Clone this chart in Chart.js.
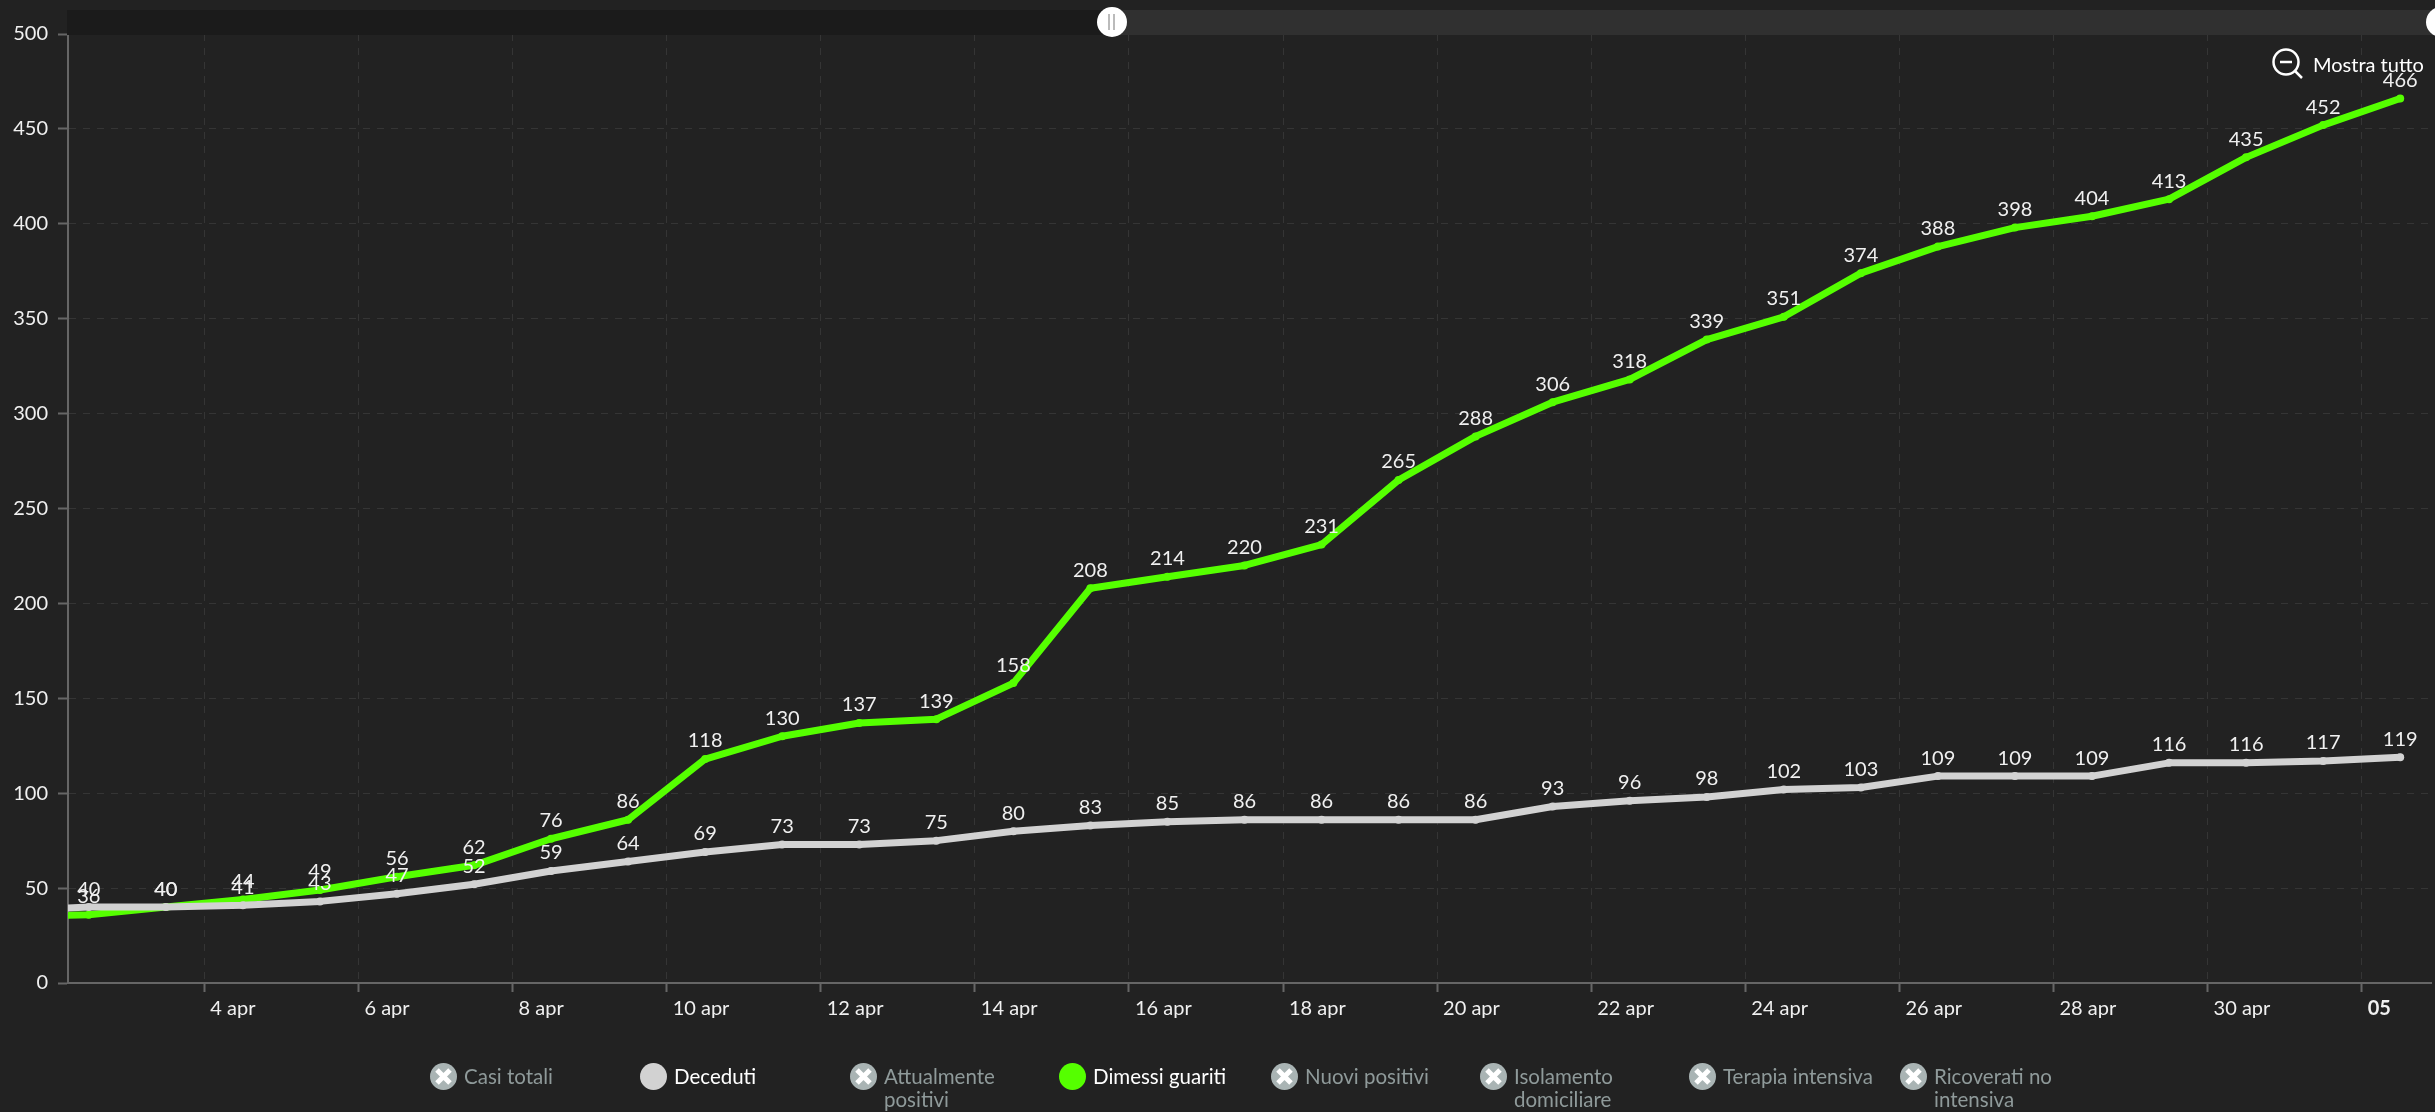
<!DOCTYPE html>
<html lang="it">
<head>
<meta charset="utf-8">
<title>Deceduti e dimessi guariti</title>
<script src="https://cdn.jsdelivr.net/npm/chart.js@4"></script>
<style>
  html, body { margin: 0; padding: 0; background: #222; overflow: hidden; }
  #wrap { position: relative; width: 2435px; height: 1112px; font-family: Lato, sans-serif; color: #fff; }
  canvas { position: absolute; left: 0; top: 0; }
  .scroll-l, .scroll-r { position: absolute; top: 10px; height: 25px; }
  .scroll-l { left: 67px; width: 1045px; background: #1b1b1b; }
  .scroll-r { left: 1112px; width: 1323px; background: #303030; }
  .grip { position: absolute; top: 7px; width: 30px; height: 30px; border-radius: 50%; background: #fff; }
  .grip::after { content: ''; position: absolute; left: 11px; top: 7px; width: 3px; height: 16px;
    border-left: 2px solid #bbb; border-right: 2px solid #bbb; }
  #zoomout { position: absolute; left: 2272px; top: 48px; display: flex; align-items: center; font-size: 20px; line-height: 24px; }
  #zoomout svg { margin-right: 9px; }
  .lg { position: absolute; top: 1063px; font-size: 20.5px; line-height: 23px; padding: 2px 0 0 34px; color: #8f9a9a; white-space: pre-line; }
  .lg.on { color: #fff; }
  .lg i { position: absolute; left: 0; top: 0; width: 27px; height: 27px; border-radius: 50%; }
  .lg svg { position: absolute; left: 0; top: 0; }
</style>
</head>
<body>
<div id="wrap">
  <canvas id="chart" width="2435" height="1112"></canvas>
  <div class="scroll-l"></div>
  <div class="scroll-r"></div>
  <div class="grip" style="left:1097px"></div>
  <div class="grip" style="left:2426px"></div>
  <div id="zoomout">
    <svg width="32" height="32" viewBox="0 0 32 32" fill="none" stroke="#fff" stroke-width="2.5">
      <circle cx="14" cy="14" r="12.5"/><path d="M8 14h12M23 23l7 7"/>
    </svg>Mostra tutto
  </div>
  <div id="legend"></div>
</div>
<script>
// apr days, the first one sits left of the visible range
const days = [1, 2, 3, 4, 5, 6, 7, 8, 9, 10, 11, 12, 13, 14, 15, 16, 17, 18, 19, 20, 21, 22, 23, 24, 25, 26, 27, 28, 29, 30, 31, 32];
const deceduti = [38, 40, 40, 41, 43, 47, 52, 59, 64, 69, 73, 73, 75, 80, 83, 85, 86, 86, 86, 86, 93, 96, 98, 102, 103, 109, 109, 109, 116, 116, 117, 119];
const dimessi = [35, 36, 40, 44, 49, 56, 62, 76, 86, 118, 130, 137, 139, 158, 208, 214, 220, 231, 265, 288, 306, 318, 339, 351, 374, 388, 398, 404, 413, 435, 452, 466];
const tickDays = [4, 6, 8, 10, 12, 14, 16, 18, 20, 22, 24, 26, 28, 30, 32];
const tickLabels = ['4 apr', '6 apr', '8 apr', '10 apr', '12 apr', '14 apr', '16 apr', '18 apr', '20 apr', '22 apr', '24 apr', '26 apr', '28 apr', '30 apr', '05'];
const legendNames = ['Casi totali', 'Deceduti', 'Attualmente\npositivi', 'Dimessi guariti', 'Nuovi positivi', 'Isolamento\ndomiciliare', 'Terapia intensiva', 'Ricoverati no\nintensiva'];
const legendColors = [null, '#d2d2d2', null, '#55ff00', null, null, null, null];
const legendLeft = [430, 640, 850, 1059, 1271, 1480, 1689, 1900];

// ─── Value labels above the points ────────────────────────
const valueLabels = {
  id: 'valueLabels',
  afterDatasetsDraw(chart) {
    const { ctx, chartArea } = chart;
    ctx.save();
    ctx.font = '20px Lato, sans-serif';
    ctx.fillStyle = '#f0f0f0';
    ctx.textAlign = 'center';
    ctx.textBaseline = 'middle';
    chart.data.datasets.forEach((ds, i) => {
      chart.getDatasetMeta(i).data.forEach((pt, j) => {
        if (pt.x < chartArea.left) return;
        ctx.fillText(ds.data[j].y, pt.x, pt.y - 18);
      });
    });
    ctx.restore();
  },
};

const toPoints = values => values.map((v, i) => ({ x: days[i] + 0.5, y: v }));

new Chart(document.getElementById('chart'), {
  type: 'line',
  data: {
    datasets: [
      { label: 'Deceduti', data: toPoints(deceduti), borderColor: '#d2d2d2', backgroundColor: '#d2d2d2' },
      { label: 'Dimessi guariti', data: toPoints(dimessi), borderColor: '#55ff00', backgroundColor: '#55ff00' },
    ],
  },
  options: {
    responsive: false,
    animation: false,
    parsing: false,
    layout: { padding: { top: 34, right: 0, left: 0, bottom: 0 } },
    elements: {
      line: { tension: 0, borderWidth: 7, borderCapStyle: 'round', borderJoinStyle: 'round' },
      point: { radius: 4, borderWidth: 0, hoverRadius: 4 },
    },
    plugins: { legend: { display: false }, tooltip: { enabled: false } },
    scales: {
      x: {
        type: 'linear',
        min: 2.23,
        max: 32.9,
        afterBuildTicks: axis => { axis.ticks = tickDays.map(value => ({ value })); },
        afterFit: axis => { axis.height = 129; },
        grid: { color: 'rgba(255,255,255,0.09)', tickColor: '#666', tickLength: 9, tickWidth: 2 },
        border: { color: '#666', width: 2, dash: [7, 7] },
        ticks: {
          autoSkip: false,
          maxRotation: 0,
          align: 'start',
          labelOffset: 6,
          padding: 5,
          color: '#f0f0f0',
          font: ctx => ({ family: 'Lato', size: 20, weight: ctx.tick && ctx.tick.value === 32 ? 'bold' : 'normal' }),
          callback: value => tickLabels[tickDays.indexOf(value)],
        },
      },
      y: {
        min: 0,
        max: 500,
        afterFit: axis => { axis.width = 68; },
        grid: { color: 'rgba(255,255,255,0.09)', tickColor: '#666', tickLength: 10, tickWidth: 2 },
        border: { color: '#666', width: 2, dash: [7, 7] },
        ticks: { stepSize: 50, padding: 10, color: '#f0f0f0', font: { family: 'Lato', size: 20 } },
      },
    },
  },
  plugins: [valueLabels],
});

// ─── Legend (only two series are switched on) ─────────────
const legend = document.getElementById('legend');
legendNames.forEach((name, i) => {
  const item = document.createElement('div');
  const on = legendColors[i] !== null;
  item.className = on ? 'lg on' : 'lg';
  item.style.left = legendLeft[i] + 'px';
  item.innerHTML = on
    ? `<i style="background:${legendColors[i]}"></i>${name}`
    : `<i style="background:#a9b4b4"></i><svg width="27" height="27" viewBox="0 0 27 27"><path d="M7 7l13 13M20 7L7 20" stroke="#fff" stroke-width="5"/></svg>${name}`;
  legend.appendChild(item);
});
</script>
</body>
</html>
